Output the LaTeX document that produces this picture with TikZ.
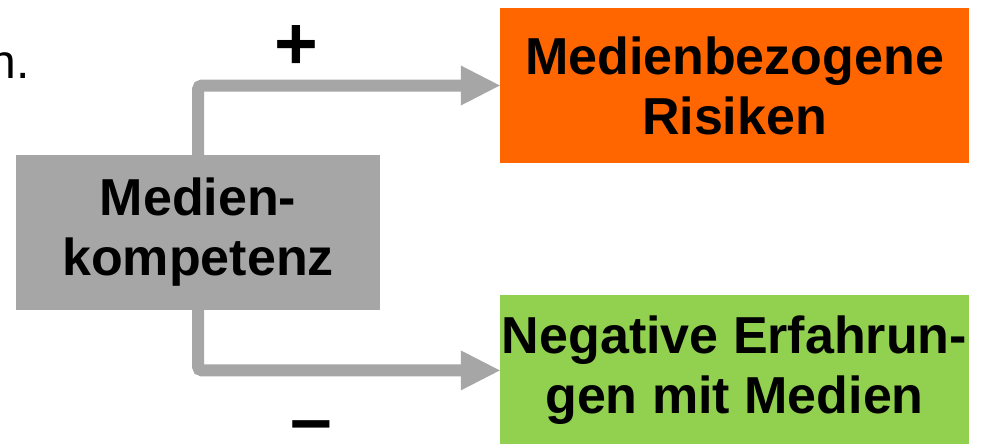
\documentclass[tikz,border=0pt]{standalone}
\usepackage{fontspec}
\setmainfont{Liberation Sans}
\usetikzlibrary{positioning,arrows.meta}

\begin{document}
\begin{tikzpicture}[x=1pt, y=-1pt]

      \definecolor{boxgray}{HTML}{A6A6A6}
      \definecolor{orange}{HTML}{FF6600}
      \definecolor{green}{HTML}{92D050}

      \newcommand{\boxfont}[0]{\fontsize{52}{60}\selectfont\bfseries}
      \newcommand{\signfont}[0]{\fontsize{75}{80}\selectfont\bfseries}
      \newcommand{\boxsep}[0]{132pt}

      \tikzstyle{block}     = [rectangle, inner sep=0pt, align=center, font=\boxfont, minimum width=469pt]
      \tikzstyle{connector} = [line width=12pt, draw=boxgray, rounded corners=4pt, -{Triangle[length=39pt, width=40pt, line width=0pt]}]
      \tikzstyle{sign}      = [inner sep=0pt, anchor=base, font=\signfont]

      \useasboundingbox (0,0) rectangle (982,444);

      \node [block, fill = boxgray, minimum width=364pt, minimum height=155pt] (medkomp)     at (198,232.5) {Medien-\\kompetenz};
      \node [block, fill = orange,  minimum height=155pt]                     (risiken)     at (734.5,85.5) {Medienbezogene\\Risiken};
      \node [block, fill = green,   minimum height=150pt, below = \boxsep of risiken] (erfahrungen) {Negative Erfahrun-\\gen mit Medien};

      \draw [connector] (medkomp.north) |- (risiken.west);
      \draw [connector] (medkomp.south) |- (erfahrungen.west);

      \node [sign] (plus)  at (296,70)  {+};
      \node [sign] (minus) at (311,444) {–};

      \node [font=\fontsize{48}{56}\selectfont, inner sep=0pt, anchor=base east] (cut) at (30,78) {n.};

\end{tikzpicture}
\end{document}
